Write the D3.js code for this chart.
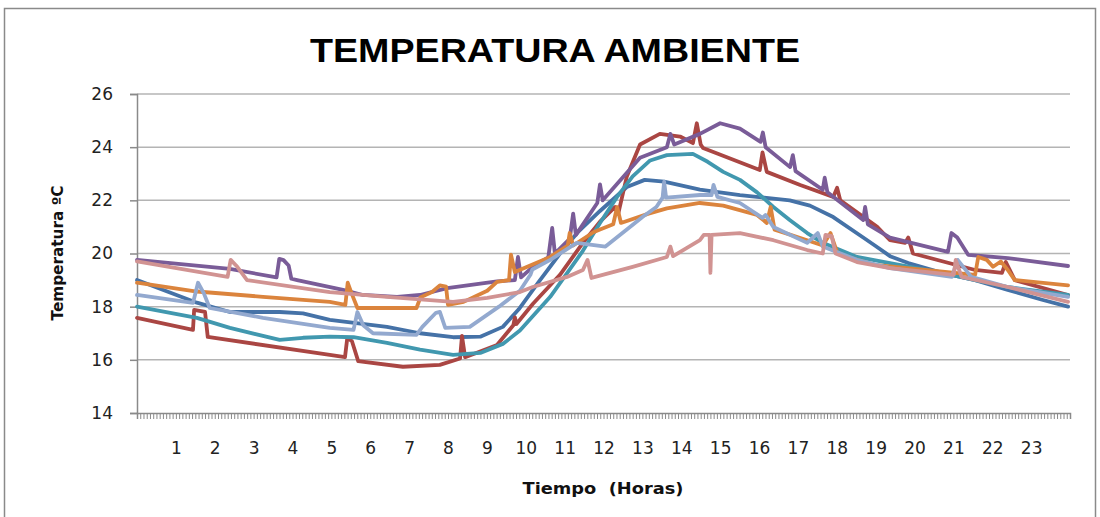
<!DOCTYPE html>
<html>
<head>
<meta charset="utf-8">
<script src="https://cdn.jsdelivr.net/npm/d3@7"></script>
<style>
  body { margin: 0; background: #fff; }
</style>
</head>
<body>
<div id="chart"></div>
<script>
// Axis values
const yTicks = [14, 16, 18, 20, 22, 24, 26];
const hourLabels = [1, 2, 3, 4, 5, 6, 7, 8, 9, 10, 11, 12, 13, 14, 15, 16, 17, 18, 19, 20, 21, 22, 23];

// Series: [hour, temperature]
const serieAzul = [[0,19.0],[1.54,18.15],[2.39,17.8],[3.67,17.8],[4.27,17.75],[4.96,17.5],[6.43,17.24],[7.28,17.0],[8.13,16.85],[8.83,16.87],[9.41,17.24],[9.82,17.9],[10.32,18.9],[10.88,20.0],[11.34,20.8],[11.91,21.6],[12.6,22.5],[13.06,22.77],[13.56,22.7],[14.48,22.4],[15.51,22.2],[16.79,22.0],[17.31,21.8],[17.91,21.37],[18.68,20.6],[18.98,20.3],[19.37,19.9],[19.84,19.64],[20.71,19.27],[21.56,19.0],[22.4,18.63],[23.28,18.26],[23.95,18.0]];

const serieRoja = [[0,17.58],[1.44,17.13],[1.47,17.88],[1.75,17.8],[1.82,16.86],[4.96,16.19],[5.35,16.1],[5.41,16.83],[5.53,16.7],[5.69,15.95],[6.84,15.74],[7.79,15.81],[8.31,16.05],[8.36,16.9],[8.44,16.1],[9.26,16.56],[9.68,17.3],[9.72,17.6],[9.76,17.35],[10.18,18.1],[10.88,19.2],[11.47,20.4],[11.91,21.2],[12.3,21.75],[12.38,21.5],[12.6,22.9],[12.94,24.1],[13.45,24.5],[13.97,24.4],[14.3,24.15],[14.4,24.9],[14.5,24.1],[14.56,23.97],[16.02,23.14],[16.09,23.8],[16.2,23.07],[17.06,22.58],[17.91,22.13],[18.01,22.47],[18.09,22.0],[19.04,21.0],[19.37,20.5],[19.76,20.4],[19.84,20.6],[19.96,20.0],[21.56,19.38],[22.25,19.27],[22.35,19.68],[22.58,19.0],[23.95,18.44]];

const serieMorada = [[0,19.76],[2.39,19.42],[3.59,19.1],[3.66,19.8],[3.77,19.75],[3.9,19.55],[3.97,19.05],[4.12,19.0],[5.3,18.63],[5.81,18.44],[6.69,18.37],[7.28,18.44],[7.98,18.7],[9.26,18.95],[9.72,19.0],[9.8,19.87],[9.88,19.1],[10.18,19.5],[10.58,19.85],[10.68,20.96],[10.75,20.0],[11.13,20.55],[11.22,21.5],[11.29,20.7],[11.84,21.9],[11.91,22.6],[11.98,22.0],[12.94,23.6],[13.63,24.0],[13.72,24.5],[13.82,24.1],[14.48,24.5],[15.0,24.9],[15.51,24.7],[16.04,24.2],[16.1,24.55],[16.17,24.0],[16.8,23.25],[16.87,23.7],[16.94,23.1],[17.64,22.4],[17.69,22.85],[17.76,22.3],[18.68,21.26],[18.73,21.75],[18.8,21.1],[19.37,20.6],[20.86,20.06],[20.95,20.77],[21.1,20.6],[21.38,19.95],[22.4,19.83],[23.95,19.53]];

const serieTurquesa = [[0,18.0],[1.54,17.58],[2.39,17.2],[3.67,16.75],[4.27,16.83],[4.96,16.87],[5.57,16.85],[6.43,16.64],[7.28,16.38],[8.13,16.19],[8.83,16.26],[9.41,16.6],[9.85,17.1],[10.63,18.37],[11.47,20.1],[11.91,21.15],[12.35,22.13],[12.75,22.9],[13.2,23.5],[13.63,23.7],[14.3,23.75],[14.68,23.45],[15.08,23.07],[15.51,22.77],[15.95,22.3],[16.37,21.75],[16.79,21.26],[17.24,20.77],[17.64,20.4],[18.52,19.87],[19.37,19.64],[20.71,19.27],[21.56,19.0],[22.4,18.74],[23.95,18.44]];

const serieNaranja = [[0,18.9],[1.54,18.57],[3.24,18.37],[4.96,18.18],[5.36,18.07],[5.42,18.9],[5.52,18.5],[5.67,17.95],[7.19,17.95],[7.29,18.35],[7.59,18.55],[7.79,18.8],[7.95,18.75],[8.0,18.07],[8.4,18.18],[9.01,18.6],[9.26,18.93],[9.57,19.0],[9.62,19.96],[9.72,19.3],[10.63,19.87],[11.08,20.3],[11.13,20.77],[11.22,20.3],[11.74,20.8],[11.91,20.9],[12.25,21.1],[12.35,21.75],[12.45,21.15],[13.16,21.5],[13.63,21.7],[14.48,21.9],[15.08,21.8],[15.95,21.45],[16.2,21.15],[16.3,21.75],[16.4,20.9],[17.24,20.5],[17.64,20.3],[17.84,20.77],[18.02,20.0],[18.52,19.76],[18.98,19.57],[21.56,19.2],[21.64,19.87],[21.86,19.76],[22.02,19.5],[22.22,19.7],[22.4,19.38],[22.58,19.0],[23.95,18.8]];

const serieCeleste = [[0,18.44],[1.44,18.14],[1.57,18.9],[1.72,18.5],[1.87,17.95],[3.24,17.58],[4.96,17.2],[5.57,17.13],[5.67,17.8],[5.82,17.3],[6.07,17.0],[7.19,16.94],[7.34,17.24],[7.69,17.77],[7.79,17.8],[7.93,17.2],[8.56,17.24],[9.31,18.0],[9.85,18.6],[10.12,19.2],[10.17,19.4],[10.63,19.76],[11.31,20.4],[12.05,20.26],[12.6,20.9],[13.01,21.38],[13.36,21.75],[13.52,22.1],[13.56,22.7],[13.61,22.1],[14.48,22.2],[14.78,22.2],[14.83,22.58],[14.93,22.13],[15.51,21.9],[16.09,21.34],[16.17,21.45],[16.37,21.0],[17.24,20.4],[17.51,20.77],[17.64,20.26],[18.52,19.76],[19.37,19.45],[20.96,19.12],[21.11,19.76],[21.46,19.12],[22.4,18.74],[23.95,18.37]];

const serieRosa = [[0,19.7],[2.33,19.12],[2.41,19.76],[2.58,19.5],[2.83,19.0],[4.96,18.55],[6.43,18.37],[8.13,18.18],[9.01,18.33],[9.85,18.55],[10.18,18.74],[11.06,19.12],[11.47,19.38],[11.59,19.76],[11.69,19.08],[12.75,19.5],[13.63,19.87],[13.72,20.26],[13.79,19.9],[14.48,20.5],[14.58,20.7],[14.73,20.7],[14.75,19.27],[14.78,20.7],[15.51,20.77],[16.37,20.5],[17.24,20.13],[17.64,20.0],[17.71,20.7],[17.87,20.65],[17.97,20.0],[18.52,19.68],[19.37,19.45],[21.01,19.2],[21.06,19.76],[21.21,19.12],[22.4,18.74],[23.95,18.18]];

const series = [serieAzul, serieRoja, serieMorada, serieTurquesa, serieNaranja, serieCeleste, serieRosa];
const colores = ["#4572A7", "#AA4643", "#7A5C98", "#4198AF", "#DB843D", "#93A9CF", "#D19392"];

const W = 1100, H = 517;
const plot = { left: 137, right: 1070, top: 94, bottom: 413 };

const svg = d3.select("#chart").append("svg")
    .attr("width", W)
    .attr("height", H)
    .style("font-family", "DejaVu Sans, Verdana, sans-serif");

// outer frame
svg.append("rect")
    .attr("x", 4.5).attr("y", 8.5)
    .attr("width", 1091).attr("height", 530)
    .attr("fill", "none")
    .attr("stroke", "#8a8a8a")
    .attr("stroke-width", 1.5);

const x = d3.scaleLinear().domain([0, 24]).range([plot.left, plot.right]);
const y = d3.scaleLinear().domain([14, 26]).range([plot.bottom, plot.top]);

// gridlines
svg.append("g")
    .selectAll("line")
    .data(yTicks.filter(d => d > 14))
    .join("line")
    .attr("x1", plot.left).attr("x2", plot.right)
    .attr("y1", d => y(d)).attr("y2", d => y(d))
    .attr("stroke", "#b4b4b4")
    .attr("stroke-width", 1.5);

// y axis
const yAxis = svg.append("g")
    .attr("transform", `translate(${plot.left},0)`)
    .call(d3.axisLeft(y).tickValues(yTicks).tickSize(7).tickPadding(17));
yAxis.select(".domain").attr("stroke", "#8a8a8a").attr("stroke-width", 1.5);
yAxis.selectAll(".tick line").attr("stroke", "#8a8a8a").attr("stroke-width", 1.5);
yAxis.selectAll("text")
    .style("font-size", "17px")
    .style("font-family", "DejaVu Sans, Verdana, sans-serif")
    .attr("fill", "#222");

// x axis: dense minor ticks
const minorTicks = d3.range(0, 24, 1 / 12);
const xMinor = svg.append("g")
    .attr("transform", `translate(0,${plot.bottom})`)
    .call(d3.axisBottom(x).tickValues(minorTicks).tickSize(6).tickFormat(""));
xMinor.select(".domain").attr("stroke", "#8a8a8a").attr("stroke-width", 1.5);
xMinor.selectAll(".tick line").attr("stroke", "#8a8a8a").attr("stroke-width", 1);

// x axis: hour labels
const xLab = svg.append("g")
    .attr("transform", `translate(0,${plot.bottom})`)
    .call(d3.axisBottom(x).tickValues(hourLabels).tickSize(0).tickPadding(29));
xLab.select(".domain").remove();
xLab.selectAll("text")
    .style("font-size", "17px")
    .style("font-family", "DejaVu Sans, Verdana, sans-serif")
    .attr("fill", "#222");

// lines
const line = d3.line()
    .x(d => x(d[0]))
    .y(d => y(d[1]));

svg.append("g")
    .selectAll("path")
    .data(series)
    .join("path")
    .attr("d", line)
    .attr("fill", "none")
    .attr("stroke", (d, i) => colores[i])
    .attr("stroke-width", 3.8)
    .attr("stroke-linejoin", "round")
    .attr("stroke-linecap", "round");

// title
svg.append("text")
    .attr("x", 555)
    .attr("y", 62)
    .attr("text-anchor", "middle")
    .attr("textLength", 490)
    .attr("lengthAdjust", "spacingAndGlyphs")
    .style("font-family", "Liberation Sans Narrow, Liberation Sans, Arial, sans-serif")
    .style("font-size", "34px")
    .style("font-weight", "bold")
    .attr("fill", "#000")
    .text("TEMPERATURA AMBIENTE");

// axis titles
svg.append("text")
    .attr("x", 603)
    .attr("y", 494)
    .attr("text-anchor", "middle")
    .attr("textLength", 161)
    .attr("lengthAdjust", "spacingAndGlyphs")
    .style("font-size", "15px")
    .style("font-weight", "bold")
    .attr("fill", "#111")
    .attr("xml:space", "preserve")
    .text("Tiempo  (Horas)");

svg.append("text")
    .attr("transform", "translate(63,253) rotate(-90)")
    .attr("text-anchor", "middle")
    .attr("textLength", 135)
    .attr("lengthAdjust", "spacingAndGlyphs")
    .style("font-size", "15px")
    .style("font-weight", "bold")
    .attr("fill", "#111")
    .text("Temperatura ºC");
</script>
</body>
</html>
